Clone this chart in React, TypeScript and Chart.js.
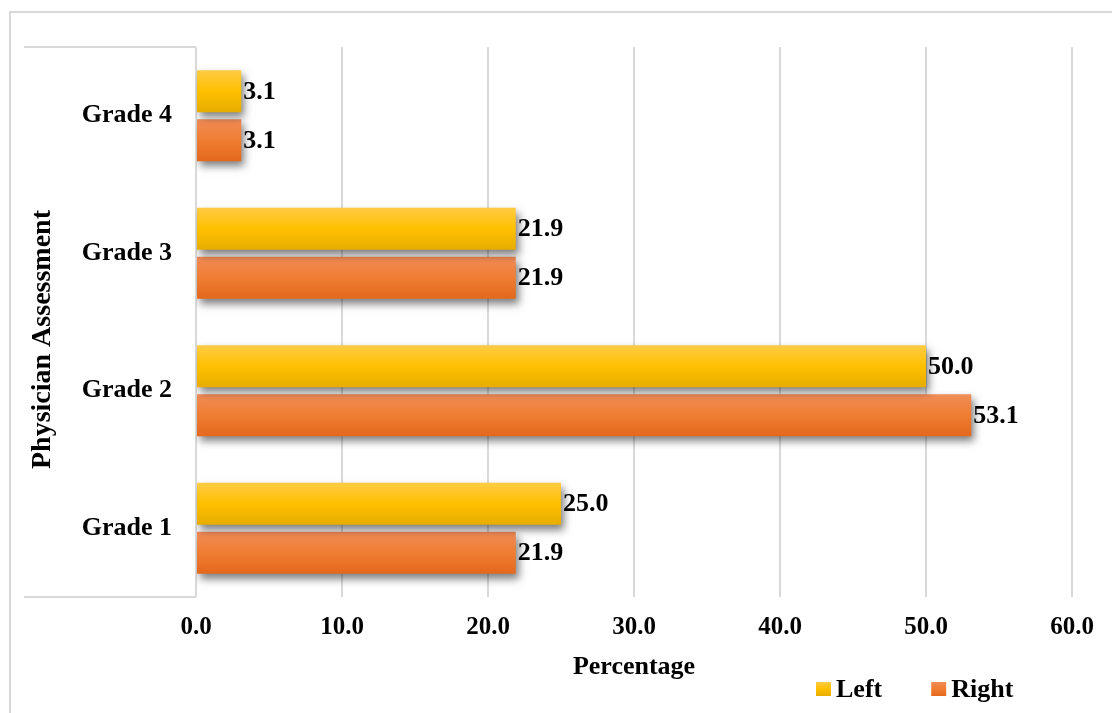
import React, { useEffect, useRef } from "react";
import { Chart, registerables } from "chart.js";

Chart.register(...registerables);

const categories = ["Grade 4", "Grade 3", "Grade 2", "Grade 1"];
const leftValues = [3.1, 21.9, 50.0, 25.0];
const rightValues = [3.1, 21.9, 53.1, 21.9];
const seriesNames = ["Left", "Right"];
const xTickValues = [0, 10, 20, 30, 40, 50, 60];

const FONT = '"Liberation Serif", "Times New Roman", serif';
const GRID = "#d9d9d9";
const GRADIENTS = [
  ["#FFCB45", "#FFC000", "#E6AD00"],
  ["#F18C58", "#F07D32", "#E2681C"],
];

const decorPlugin = {
  id: "decor",
  beforeDraw(chart: any) {
    const { ctx, chartArea } = chart;
    ctx.save();
    ctx.strokeStyle = GRID;
    ctx.lineWidth = 2;
    // outer chart border (left and top visible)
    ctx.beginPath();
    ctx.moveTo(10, 800);
    ctx.lineTo(10, 12);
    ctx.lineTo(1200, 12);
    ctx.stroke();
    // category label box lines
    ctx.beginPath();
    ctx.moveTo(24, chartArea.top);
    ctx.lineTo(chartArea.left, chartArea.top);
    ctx.moveTo(24, chartArea.bottom);
    ctx.lineTo(chartArea.left, chartArea.bottom);
    ctx.stroke();
    ctx.restore();
  },
  beforeDatasetsDraw(chart: any) {
    const ctx = chart.ctx;
    chart.data.datasets.forEach((_ds: any, i: number) => {
      const meta = chart.getDatasetMeta(i);
      const stops = GRADIENTS[i];
      meta.data.forEach((el: any) => {
        const { y, height } = el.getProps(["y", "height"], true);
        const g = ctx.createLinearGradient(0, y - height / 2, 0, y + height / 2);
        g.addColorStop(0, stops[0]);
        g.addColorStop(0.5, stops[1]);
        g.addColorStop(1, stops[2]);
        el.options = Object.assign({}, el.options, { backgroundColor: g });
      });
    });
    ctx.save();
    ctx.shadowColor = "rgba(0,0,0,0.5)";
    ctx.shadowBlur = 8;
    ctx.shadowOffsetX = 3;
    ctx.shadowOffsetY = 5;
  },
  afterDatasetsDraw(chart: any) {
    const ctx = chart.ctx;
    ctx.restore();
    ctx.save();
    ctx.font = `bold 26px ${FONT}`;
    ctx.fillStyle = "#000";
    ctx.textAlign = "left";
    ctx.textBaseline = "middle";
    chart.data.datasets.forEach((ds: any, i: number) => {
      const meta = chart.getDatasetMeta(i);
      meta.data.forEach((el: any, j: number) => {
        const { x, y } = el.getProps(["x", "y"], true);
        ctx.fillText(Number(ds.data[j]).toFixed(1), x + 2, y + 1);
      });
    });
    ctx.restore();
  },
  afterDraw(chart: any) {
    const ctx = chart.ctx;
    ctx.save();
    ctx.font = `bold 26px ${FONT}`;
    ctx.textBaseline = "middle";
    ctx.textAlign = "left";
    let x = 816;
    const cy = 689;
    chart.data.datasets.forEach((ds: any, i: number) => {
      const stops = GRADIENTS[i];
      const g = ctx.createLinearGradient(0, cy - 7, 0, cy + 7);
      g.addColorStop(0, stops[0]);
      g.addColorStop(0.5, stops[1]);
      g.addColorStop(1, stops[2]);
      ctx.fillStyle = g;
      ctx.fillRect(x, cy - 7, 15, 14);
      ctx.fillStyle = "#000";
      ctx.fillText(ds.label, x + 20, cy + 1);
      x += 20 + ctx.measureText(ds.label).width + 49;
    });
    ctx.restore();
  },
};

export default function App() {
  const ref = useRef<HTMLCanvasElement>(null);
  useEffect(() => {
    const chart = new Chart(ref.current as HTMLCanvasElement, {
      type: "bar",
      data: {
        labels: categories,
        datasets: [
          { label: seriesNames[0], data: leftValues, backgroundColor: "#FFC000", categoryPercentage: 0.713, barPercentage: 0.857 },
          { label: seriesNames[1], data: rightValues, backgroundColor: "#ED7D31", categoryPercentage: 0.713, barPercentage: 0.857 },
        ],
      },
      options: {
        indexAxis: "y",
        responsive: false,
        animation: false,
        layout: { padding: { left: 0, right: 40, top: 47, bottom: 0 } },
        plugins: { legend: { display: false }, tooltip: { enabled: false } },
        scales: {
          x: {
            min: 0,
            max: 60,
            afterBuildTicks: (scale: any) => {
              scale.ticks = xTickValues.map((v) => ({ value: v }));
            },
            afterFit: (scale: any) => {
              scale.height = 116;
            },
            grid: { color: GRID, lineWidth: 2, drawTicks: false },
            border: { display: false },
            ticks: {
              padding: 16,
              color: "#000",
              font: { family: FONT, size: 25, weight: "bold" },
              callback: (v: any) => Number(v).toFixed(1),
            },
            title: {
              display: true,
              text: "Percentage",
              color: "#000",
              font: { family: FONT, size: 26, weight: "bold" },
              padding: { top: 0, bottom: 30 },
            },
          },
          y: {
            afterFit: (scale: any) => {
              scale.width = 196;
            },
            grid: { display: false, drawTicks: false },
            border: { display: false },
            ticks: {
              padding: 24,
              color: "#000",
              font: { family: FONT, size: 26, weight: "bold" },
            },
            title: {
              display: true,
              text: "Physician Assessment     ",
              color: "#000",
              font: { family: FONT, size: 28, weight: "bold" },
              padding: { top: 26, bottom: 0 },
            },
          },
        },
      },
      plugins: [decorPlugin],
    } as any);
    return () => chart.destroy();
  }, []);
  return (
    <div style={{ position: "absolute", left: 0, top: 0, width: 1112, height: 713, background: "#fff" }}>
      <canvas ref={ref} width={1112} height={713} style={{ display: "block", width: 1112, height: 713 }} />
    </div>
  );
}
